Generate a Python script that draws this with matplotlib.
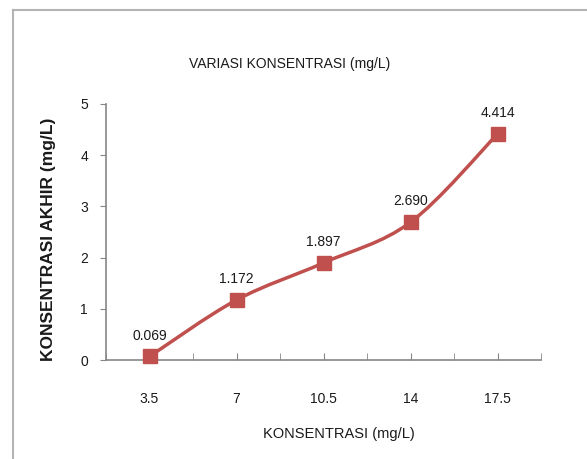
import matplotlib.pyplot as plt
from matplotlib.path import Path
from matplotlib.patches import PathPatch
from matplotlib.lines import Line2D

plt.rcParams['font.family'] = ['Liberation Sans', 'DejaVu Sans']

konsentrasi = ['3.5', '7', '10.5', '14', '17.5']
akhir = [0.069, 1.172, 1.897, 2.690, 4.414]
labels = ['0.069', '1.172', '1.897', '2.690', '4.414']

red = '#C0504D'
axis_gray = '#868686'

fig = plt.figure(figsize=(5.87, 4.59), dpi=100)

# chart frame (only left and top edges are inside the picture)
fig.add_artist(Line2D([13 / 587, 13 / 587], [0, 1 - 10 / 459],
                      transform=fig.transFigure, color='#b4b4b4', lw=1.5))
fig.add_artist(Line2D([13 / 587, 1], [1 - 10 / 459, 1 - 10 / 459],
                      transform=fig.transFigure, color='#b4b4b4', lw=1.5))

ax = fig.add_axes([106 / 587, 1 - 360 / 459, 435 / 587, 256 / 459])
x = list(range(len(akhir)))
ax.set_xlim(-0.5, len(akhir) - 0.5)
ax.set_ylim(0, 5)

# smoothed line through the points (Catmull-Rom as cubic Bezier)
pts = list(zip(x, akhir))
verts = [pts[0]]
codes = [Path.MOVETO]
for i in range(len(pts) - 1):
    p0 = pts[i - 1] if i > 0 else pts[i]
    p1 = pts[i]
    p2 = pts[i + 1]
    p3 = pts[i + 2] if i + 2 < len(pts) else pts[i + 1]
    c1 = (p1[0] + (p2[0] - p0[0]) / 6, p1[1] + (p2[1] - p0[1]) / 6)
    c2 = (p2[0] - (p3[0] - p1[0]) / 6, p2[1] - (p3[1] - p1[1]) / 6)
    verts += [c1, c2, p2]
    codes += [Path.CURVE4] * 3
ax.add_patch(PathPatch(Path(verts, codes), facecolor='none', edgecolor=red,
                       lw=2.5, capstyle='round', zorder=2))
ax.plot(x, akhir, linestyle='none', marker='s', markersize=9.5,
        color=red, zorder=3, clip_on=False)

for xi, yi, t in zip(x, akhir, labels):
    ax.annotate(t, (xi, yi), xytext=(0, 10), textcoords='offset points',
                ha='center', va='bottom', fontsize=10, color='#1a1a1a')

ax.set_xticks(x)
ax.set_xticklabels(konsentrasi)
ax.set_xticks([i - 0.5 for i in range(len(akhir) + 1)], minor=True)
ax.tick_params(axis='x', which='both', direction='in', length=5,
               color=axis_gray, labelsize=10, labelcolor='#1a1a1a', pad=23)
ax.set_yticks(range(6))
ax.tick_params(axis='y', direction='out', length=4, color=axis_gray,
               labelsize=10, labelcolor='#1a1a1a', pad=9)

for side in ['top', 'right']:
    ax.spines[side].set_visible(False)
for side in ['left', 'bottom']:
    ax.spines[side].set_color(axis_gray)
    ax.spines[side].set_linewidth(1.2)

fig.text(290 / 587, 1 - 64 / 459, 'VARIASI KONSENTRASI (mg/L)',
         ha='center', va='center', fontsize=10, color='#1a1a1a')
fig.text(339 / 587, 1 - 434 / 459, 'KONSENTRASI (mg/L)',
         ha='center', va='center', fontsize=10.5, color='#1a1a1a')
fig.text(49 / 587, 1 - 239 / 459, 'KONSENTRASI AKHIR (mg/L)',
         ha='center', va='center', rotation=90, fontsize=12.5,
         fontweight='bold', color='#1a1a1a')

fig.savefig('out.png', dpi=100)
